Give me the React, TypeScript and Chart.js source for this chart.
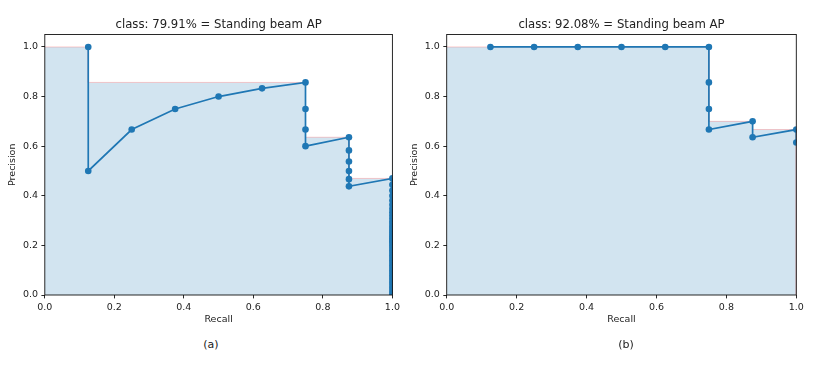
import React, { useEffect, useRef } from "react";
import { Chart, registerables } from "chart.js";

Chart.register(...registerables);
Chart.defaults.font.family = "'DejaVu Sans', sans-serif";

// ---------- data (a) ----------
const titleA = "class: 79.91% = Standing beam AP";
const recallA = [
  0.125, 0.125, 0.25, 0.375, 0.5, 0.625, 0.75, 0.75, 0.75, 0.75,
  0.875, 0.875, 0.875, 0.875, 0.875, 0.875, 1.0,
  1.0, 1.0, 1.0, 1.0, 1.0, 1.0, 1.0, 1.0, 1.0, 1.0,
  1.0, 1.0, 1.0, 1.0, 1.0, 1.0, 1.0, 1.0, 1.0, 1.0,
  1.0, 1.0, 1.0, 1.0, 1.0, 1.0, 1.0, 1.0, 1.0, 1.0,
  1.0, 1.0, 1.0, 1.0, 1.0, 1.0, 1.0, 1.0, 1.0, 1.0,
  1.0, 1.0,
];
const precisionA = [
  1.0, 0.5, 0.667, 0.75, 0.8, 0.833, 0.857, 0.75, 0.667, 0.6,
  0.636, 0.583, 0.538, 0.5, 0.467, 0.438, 0.47,
  0.444, 0.421, 0.4, 0.381, 0.364, 0.348, 0.333, 0.32, 0.308, 0.296,
  0.286, 0.276, 0.267, 0.258, 0.25, 0.242, 0.235, 0.229, 0.222, 0.216,
  0.21, 0.2, 0.19, 0.18, 0.17, 0.16, 0.15, 0.14, 0.13, 0.12,
  0.11, 0.1, 0.09, 0.08, 0.07, 0.06, 0.05, 0.04, 0.03, 0.02,
  0.01, 0.0,
];
const envRecallA = [0, 0.125, 0.125, 0.75, 0.75, 0.875, 0.875, 1.0, 1.0];
const envPrecisionA = [1.0, 1.0, 0.857, 0.857, 0.636, 0.636, 0.47, 0.47, 0.0];

// ---------- data (b) ----------
const titleB = "class: 92.08% = Standing beam AP";
const recallB = [0.125, 0.25, 0.375, 0.5, 0.625, 0.75, 0.75, 0.75, 0.75, 0.875, 0.875, 1.0, 1.0];
const precisionB = [1.0, 1.0, 1.0, 1.0, 1.0, 1.0, 0.857, 0.75, 0.667, 0.7, 0.636, 0.667, 0.615];
const envRecallB = [0, 0.75, 0.75, 0.875, 0.875, 1.0, 1.0];
const envPrecisionB = [1.0, 1.0, 0.7, 0.7, 0.667, 0.667, 0.0];

// ---------- axes ----------
const xTicks = [0, 0.2, 0.4, 0.6, 0.8, 1.0];
const yTicks = [0, 0.2, 0.4, 0.6, 0.8, 1.0];
const xLabel = "Recall";
const yLabel = "Precision";
const captions = ["(a)", "(b)"];

const BLUE = "#1f77b4";
const TEXT = "#222222";
const PLOT_BOTTOM = 295;
const CANVAS_H = 335;

type Props = {
  title: string;
  recall: number[];
  precision: number[];
  envRecall: number[];
  envPrecision: number[];
  left: number;
  width: number;
  plotLeft: number;
  plotRight: number;
  labelX: number;
};

function PRChart(p: Props) {
  const ref = useRef<HTMLCanvasElement>(null);
  useEffect(() => {
    const tickFont = { size: 9.5, family: "'DejaVu Sans', sans-serif" };
    const lh = 9.5 * 1.2;
    const frame = {
      id: "frame",
      afterDatasetsDraw(chart: any) {
        const { ctx, chartArea: a } = chart;
        ctx.save();
        ctx.strokeStyle = "#111";
        ctx.lineWidth = 0.9;
        ctx.strokeRect(a.left, a.top, a.right - a.left, a.bottom - a.top);
        ctx.restore();
      },
    };
    const chart = new Chart(ref.current as HTMLCanvasElement, {
      type: "scatter",
      data: {
        datasets: [
          {
            data: p.recall.map((r, i) => ({ x: r, y: p.precision[i] })),
            showLine: true,
            borderColor: BLUE,
            backgroundColor: BLUE,
            borderWidth: 1.7,
            pointRadius: 3.3,
            pointBorderWidth: 0,
            pointBackgroundColor: BLUE,
            fill: false,
            clip: 0,
          } as any,
          {
            data: p.envRecall.map((r, i) => ({ x: r, y: p.envPrecision[i] })),
            showLine: true,
            borderColor: "rgba(255,0,0,0.2)",
            borderWidth: 1,
            backgroundColor: "rgba(31,119,180,0.2)",
            fill: "origin",
            pointRadius: 0,
            clip: 0,
          } as any,
        ],
      },
      options: {
        responsive: false,
        animation: false,
        devicePixelRatio: 1,
        layout: { padding: { left: 0, right: p.width - p.plotRight, top: 0, bottom: 0 } },
        plugins: {
          legend: { display: false },
          tooltip: { enabled: false },
          title: {
            display: true,
            text: p.title,
            color: TEXT,
            fullSize: false,
            font: { size: 11.7, weight: "normal", family: "'DejaVu Sans', sans-serif" },
            padding: { top: 18, bottom: 2.5 },
          },
        },
        scales: {
          x: {
            type: "linear",
            min: 0,
            max: 1,
            afterBuildTicks: (s: any) => {
              s.ticks = xTicks.map((v) => ({ value: v }));
            },
            afterFit: (s: any) => {
              s.height = CANVAS_H - PLOT_BOTTOM;
            },
            ticks: {
              callback: (v: any) => Number(v).toFixed(1),
              font: tickFont,
              color: TEXT,
              padding: 3.4,
              maxRotation: 0,
              autoSkip: false,
            },
            grid: { display: true, drawOnChartArea: false, drawTicks: true, tickLength: 3.4, tickColor: "#111", tickWidth: 0.9 },
            border: { display: false },
            title: { display: true, text: xLabel, font: tickFont, color: TEXT, padding: { top: 0, bottom: 10 } },
          },
          y: {
            type: "linear",
            min: 0,
            max: 1.05,
            afterBuildTicks: (s: any) => {
              s.ticks = yTicks.map((v) => ({ value: v }));
            },
            afterFit: (s: any) => {
              s.width = p.plotLeft;
            },
            ticks: {
              callback: (v: any) => Number(v).toFixed(1),
              font: tickFont,
              color: TEXT,
              padding: 3.4,
              autoSkip: false,
            },
            grid: { display: true, drawOnChartArea: false, drawTicks: true, tickLength: 3.4, tickColor: "#111", tickWidth: 0.9 },
            border: { display: false },
            title: { display: true, text: yLabel, font: tickFont, color: TEXT, padding: { top: p.labelX - lh / 2, bottom: 0 } },
          },
        },
      } as any,
      plugins: [frame],
    });
    return () => chart.destroy();
  }, []);
  return (
    <canvas
      ref={ref}
      width={p.width}
      height={CANVAS_H}
      style={{ position: "absolute", left: p.left, top: 0, width: p.width, height: CANVAS_H }}
    />
  );
}

export default function App() {
  const capStyle = (cx: number): React.CSSProperties => ({
    position: "absolute",
    left: cx - 40,
    width: 80,
    top: 339,
    lineHeight: "12px",
    textAlign: "center",
    fontFamily: "'DejaVu Sans', sans-serif",
    fontSize: 11,
    color: TEXT,
  });
  return (
    <div style={{ position: "absolute", left: 0, top: 0, width: 839, height: 373, background: "#fff", overflow: "hidden" }}>
      <PRChart
        title={titleA}
        recall={recallA}
        precision={precisionA}
        envRecall={envRecallA}
        envPrecision={envPrecisionA}
        left={0}
        width={419}
        plotLeft={44.8}
        plotRight={392.4}
        labelX={12.7}
      />
      <PRChart
        title={titleB}
        recall={recallB}
        precision={precisionB}
        envRecall={envRecallB}
        envPrecision={envPrecisionB}
        left={395}
        width={444}
        plotLeft={51.7}
        plotRight={401.3}
        labelX={20}
      />
      <div style={capStyle(211)}>{captions[0]}</div>
      <div style={capStyle(626)}>{captions[1]}</div>
    </div>
  );
}
